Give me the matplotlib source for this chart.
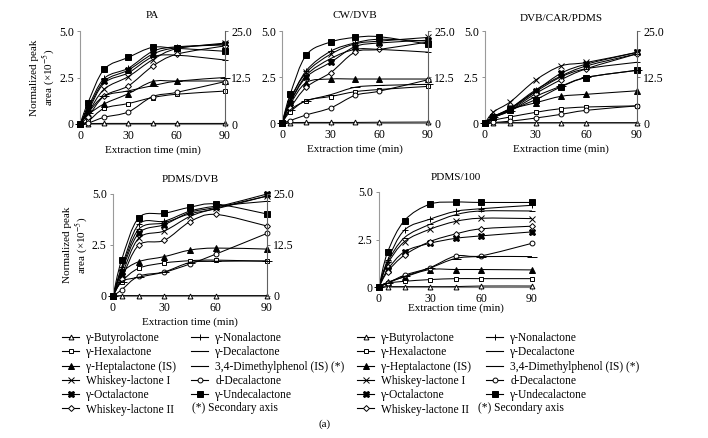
import matplotlib
matplotlib.use("Agg")
import matplotlib.pyplot as plt
import numpy as np
from matplotlib.path import Path
from matplotlib.patches import PathPatch
from matplotlib.lines import Line2D

plt.rcParams['font.family'] = ['Liberation Serif', 'DejaVu Serif']
plt.rcParams['mathtext.fontset'] = 'stix'

times = [0, 5, 15, 30, 45, 60, 90]

names = ["γ-Butyrolactone", "γ-Hexalactone", "γ-Heptalactone (IS)", "Whiskey-lactone I",
         "γ-Octalactone", "Whiskey-lactone II", "γ-Nonalactone", "γ-Decalactone",
         "3,4-Dimethylphenol (IS) (*)", "d-Decalactone", "γ-Undecalactone"]

# PA fibre
pa_butyro = [0, 0.02, 0.03, 0.03, 0.03, 0.03, 0.03]
pa_hexa = [0, 0.15, 0.84, 1.10, 1.42, 1.60, 1.77]
pa_hepta = [0, 0.5, 1.08, 1.63, 2.28, 2.31, 2.31]
pa_whisk1 = [0, 0.6, 1.87, 2.55, 3.45, 4.05, 4.35]
pa_octa = [0, 0.8, 2.30, 2.90, 3.75, 4.10, 4.30]
pa_whisk2 = [0, 0.4, 1.50, 2.05, 3.10, 3.75, 4.20]
pa_nona = [0, 0.9, 2.45, 3.00, 3.90, 4.15, 4.25]
pa_deca = [0, 0.7, 2.20, 2.75, 3.60, 3.70, 3.44]
pa_dmp = [0, 3.0, 7.5, 8.9, 10.3, 11.5, 12.5]
pa_ddeca = [0, 0.05, 0.36, 0.65, 1.47, 1.70, 2.28]
pa_undeca = [0, 1.15, 2.94, 3.58, 4.12, 4.07, 3.91]

# CW/DVB fibre
cw_butyro = [0, 0.02, 0.03, 0.03, 0.03, 0.04, 0.05]
cw_hexa = [0, 0.6, 1.22, 1.44, 1.70, 1.82, 1.99]
cw_hepta = [0, 1.0, 2.20, 2.39, 2.39, 2.39, 2.39]
cw_whisk1 = [0, 1.3, 2.75, 3.74, 4.30, 4.45, 4.65]
cw_octa = [0, 1.1, 2.50, 3.30, 4.15, 4.35, 4.50]
cw_whisk2 = [0, 0.8, 1.95, 2.74, 3.85, 4.00, 4.40]
cw_nona = [0, 1.2, 2.85, 3.90, 4.35, 4.55, 4.45]
cw_deca = [0, 1.1, 2.60, 3.50, 4.00, 4.00, 3.85]
cw_dmp = [0, 3.5, 6.0, 7.7, 9.7, 10.2, 10.5]
cw_ddeca = [0, 0.13, 0.44, 0.82, 1.50, 1.73, 2.35]
cw_undeca = [0, 1.55, 3.70, 4.40, 4.65, 4.69, 4.29]

# DVB/CAR/PDMS fibre
dc_butyro = [0, 0.01, 0.02, 0.02, 0.02, 0.02, 0.02]
dc_hexa = [0, 0.15, 0.33, 0.58, 0.78, 0.87, 0.93]
dc_hepta = [0, 0.3, 0.75, 1.10, 1.45, 1.56, 1.75]
dc_whisk1 = [0, 0.6, 1.15, 2.33, 3.10, 3.29, 3.84]
dc_octa = [0, 0.35, 0.80, 1.75, 2.70, 3.20, 3.84]
dc_whisk2 = [0, 0.3, 0.70, 1.60, 2.35, 2.95, 3.76]
dc_nona = [0, 0.35, 0.80, 1.80, 2.55, 3.10, 3.76]
dc_deca = [0, 0.3, 0.75, 1.70, 2.50, 2.95, 3.30]
dc_dmp = [0, 1.5, 3.3, 7.2, 10.0, 12.4, 14.3]
dc_ddeca = [0, 0.03, 0.10, 0.27, 0.47, 0.69, 0.93]
dc_undeca = [0, 0.3, 0.70, 1.27, 1.96, 2.47, 2.87]

# PDMS/DVB fibre
pd_butyro = [0, 0.02, 0.02, 0.02, 0.02, 0.02, 0.02]
pd_hexa = [0, 0.7, 1.36, 1.62, 1.73, 1.76, 1.70]
pd_hepta = [0, 1.1, 1.68, 1.93, 2.25, 2.35, 2.30]
pd_whisk1 = [0, 1.0, 2.83, 3.19, 3.90, 4.30, 4.90]
pd_octa = [0, 1.2, 3.07, 3.50, 4.10, 4.35, 5.00]
pd_whisk2 = [0, 0.85, 2.49, 2.73, 3.64, 4.00, 3.43]
pd_nona = [0, 1.4, 3.51, 3.67, 4.16, 4.40, 4.64]
pd_deca = [0, 1.3, 3.27, 3.59, 4.03, 4.27, 4.90]
pd_dmp = [0, 3.5, 4.6, 5.9, 8.2, 8.5, 8.6]
pd_ddeca = [0, 0.3, 0.97, 1.17, 1.57, 2.05, 3.07]
pd_undeca = [0, 1.76, 3.83, 4.05, 4.35, 4.51, 4.02]

# PDMS/100 fibre
p1_butyro = [0, 0.02, 0.02, 0.02, 0.02, 0.05, 0.05]
p1_hexa = [0, 0.2, 0.30, 0.39, 0.44, 0.44, 0.44]
p1_hepta = [0, 0.25, 0.53, 0.92, 0.92, 0.92, 0.90]
p1_whisk1 = [0, 1.2, 2.39, 3.04, 3.45, 3.62, 3.60]
p1_octa = [0, 0.9, 1.86, 2.30, 2.56, 2.69, 2.90]
p1_whisk2 = [0, 0.8, 1.68, 2.39, 2.79, 3.06, 3.20]
p1_nona = [0, 1.4, 3.00, 3.57, 3.98, 4.12, 4.30]
p1_deca = [0, 1.3, 2.60, 3.30, 3.80, 4.00, 4.00]
p1_dmp = [0, 1.0, 2.8, 5.0, 7.5, 8.0, 8.0]
p1_ddeca = [0, 0.2, 0.62, 1.02, 1.63, 1.64, 2.30]
p1_undeca = [0, 1.82, 3.50, 4.36, 4.47, 4.45, 4.45]

panels = [
    ("PA", [pa_butyro, pa_hexa, pa_hepta, pa_whisk1, pa_octa, pa_whisk2, pa_nona, pa_deca, pa_dmp, pa_ddeca, pa_undeca]),
    ("CW/DVB", [cw_butyro, cw_hexa, cw_hepta, cw_whisk1, cw_octa, cw_whisk2, cw_nona, cw_deca, cw_dmp, cw_ddeca, cw_undeca]),
    ("DVB/CAR/PDMS", [dc_butyro, dc_hexa, dc_hepta, dc_whisk1, dc_octa, dc_whisk2, dc_nona, dc_deca, dc_dmp, dc_ddeca, dc_undeca]),
    ("PDMS/DVB", [pd_butyro, pd_hexa, pd_hepta, pd_whisk1, pd_octa, pd_whisk2, pd_nona, pd_deca, pd_dmp, pd_ddeca, pd_undeca]),
    ("PDMS/100", [p1_butyro, p1_hexa, p1_hepta, p1_whisk1, p1_octa, p1_whisk2, p1_nona, p1_deca, p1_dmp, p1_ddeca, p1_undeca]),
]

# marker styles: (marker, size, filled)
styles = [("^", 3.5, False), ("s", 3.5, False), ("^", 4.0, True), ("x", 4.0, True),
          ("X", 4.5, True), ("D", 3.0, False), ("+", 5.0, True), ("_", 4.0, True),
          ("_", 7.0, True), ("o", 3.5, False), ("s", 4.0, True)]
secondary = 8

# axes rectangles in pixels: x0, x1, ytop, ybottom
rects = [(80, 225, 31, 124), (282, 428, 31, 123), (485, 637, 31, 123),
         (113, 267, 194, 296), (379, 532, 192, 287)]
show_right = [True, True, True, True, False]
show_ylabel = [True, False, False, True, False]
xlabel_pad = [2, 2, 2, 2, -1]
title_pad = [9, 9, 7, 9, 9]
W, H = 708, 438
FS = 8


def smooth_path(x, y):
    x = np.asarray(x, float)
    y = np.asarray(y, float)
    n = len(x)
    pts = np.column_stack([x, y])
    verts = [pts[0]]
    codes = [Path.MOVETO]
    for i in range(n - 1):
        p0 = pts[i - 1] if i > 0 else pts[i]
        p1 = pts[i]
        p2 = pts[i + 1]
        p3 = pts[i + 2] if i + 2 < n else pts[i + 1]
        c1 = p1 + (p2 - p0) / 6.0
        c2 = p2 - (p3 - p1) / 6.0
        verts += [c1, c2, p2]
        codes += [Path.CURVE4] * 3
    return Path(verts, codes)


fig = plt.figure(figsize=(W / 100, H / 100), dpi=100)

for k, (title, series) in enumerate(panels):
    x0, x1, yt, yb = rects[k]
    ax = fig.add_axes([x0 / W, 1 - yb / H, (x1 - x0) / W, (yb - yt) / H])
    ax.set_xlim(0, 90)
    ax.set_ylim(0, 5)
    ax2 = ax.twinx()
    ax2.set_ylim(0, 25)
    for j, vals in enumerate(series):
        target = ax2 if j == secondary else ax
        target.add_patch(PathPatch(smooth_path(times, vals), fill=False, lw=0.75,
                                   ec='black', clip_on=False))
        m, ms, filled = styles[j]
        target.plot(times, vals, linestyle='none', marker=m, ms=ms,
                    mec='black', mfc='black' if filled else 'white', mew=0.7,
                    clip_on=False, zorder=3)
    ax.set_xticks([0, 30, 60, 90])
    ax.set_xticklabels(["0", "30", "60", "90"], fontsize=FS + 0.5)
    ax.set_yticks([0, 2.5, 5.0])
    ax.set_yticklabels(["0", "2.5", "5.0"], fontsize=FS + 0.5)
    for s in ['top', 'right']:
        ax.spines[s].set_visible(False)
    ax.spines['left'].set_color('#9a9a9a')
    ax.spines['bottom'].set_color('#808080')
    ax.tick_params(axis='both', length=2.5, width=0.6, color='#808080', pad=2)
    ax.set_title(title, fontsize=FS, pad=title_pad[k])
    ax.set_xlabel("Extraction time (min)", fontsize=FS, labelpad=xlabel_pad[k])
    for s in ['top', 'left', 'bottom']:
        ax2.spines[s].set_visible(False)
    if show_right[k]:
        ax2.set_yticks([0, 12.5, 25.0])
        ax2.set_yticklabels(["0", "12.5", "25.0"], fontsize=FS + 0.5)
        ax2.spines['right'].set_color('#606060')
        ax2.tick_params(axis='y', length=2.5, width=0.6, color='#606060', pad=2)
    else:
        ax2.spines['right'].set_visible(False)
        ax2.set_yticks([])
    if show_ylabel[k]:
        ax.set_ylabel("Normalized peak\narea (×10$^{-5}$)", fontsize=FS,
                      labelpad=1, linespacing=1.15)

# legends
handles = []
for j in range(len(names)):
    m, ms, filled = styles[j]
    handles.append(Line2D([0], [0], color='black', lw=0.8, marker=m, ms=ms,
                          mec='black', mfc='black' if filled else 'white', mew=0.7))

for lx in (62 / W, 357 / W):
    fig.legend(handles, names, ncol=2, loc='upper left',
               bbox_to_anchor=(lx, 1 - 332 / H), frameon=False, fontsize=FS + 0.3,
               handlelength=1.5, handletextpad=0.6, columnspacing=1.3,
               labelspacing=0.2, borderaxespad=0, borderpad=0)

fig.text(192 / W, 1 - 408 / H, "(*) Secondary axis", fontsize=FS + 0.3, va='center')
fig.text(478 / W, 1 - 408 / H, "(*) Secondary axis", fontsize=FS + 0.3, va='center')
fig.text(325 / W, 1 - 424 / H, "(a)", fontsize=FS, ha='center', va='center')

fig.savefig("out.png", dpi=100)
